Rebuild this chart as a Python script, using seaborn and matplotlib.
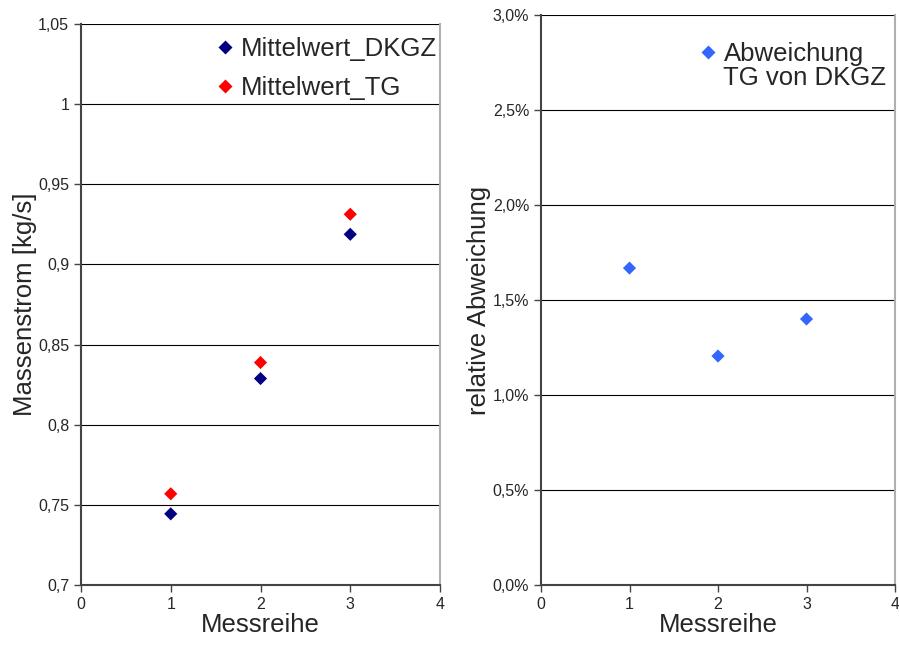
import numpy as np
import pandas as pd
import matplotlib.pyplot as plt
import seaborn as sns
from matplotlib.ticker import FuncFormatter, MultipleLocator

# Messwerte
messreihe = [1, 2, 3]
mittelwert_dkgz = [0.7444, 0.8288, 0.9188]
mittelwert_tg = [0.7569, 0.8388, 0.9313]
abweichung = [0.01668, 0.01205, 0.01400]

df_mittel = pd.DataFrame({
    'Messreihe': messreihe * 2,
    'Massenstrom': mittelwert_dkgz + mittelwert_tg,
    'Reihe': ['Mittelwert_DKGZ'] * 3 + ['Mittelwert_TG'] * 3,
})
df_abw = pd.DataFrame({
    'Messreihe': messreihe,
    'Abweichung': abweichung,
    'Reihe': ['Abweichung\nTG von DKGZ'] * 3,
})

sns.set_style('white')
plt.rcParams['font.family'] = ['Liberation Sans', 'DejaVu Sans']

fig = plt.figure(figsize=(8.99, 6.45), dpi=100)
ax1 = fig.add_axes([81 / 899, 60 / 645, 359 / 899, 561 / 645])
ax2 = fig.add_axes([541 / 899, 60 / 645, 354 / 899, 570 / 645])

sns.scatterplot(data=df_mittel, x='Messreihe', y='Massenstrom', hue='Reihe',
                palette=['#000080', '#FF0000'], marker='D', s=45,
                edgecolor='none', ax=ax1, zorder=3)
sns.scatterplot(data=df_abw, x='Messreihe', y='Abweichung', hue='Reihe',
                palette=['#3366FF'], marker='D', s=45,
                edgecolor='none', ax=ax2, zorder=3)

komma = lambda v, p: ('%g' % v).replace('.', ',')
prozent = lambda v, p: ('%.1f%%' % (v * 100)).replace('.', ',')

for ax in (ax1, ax2):
    ax.set_xlim(0, 4)
    ax.xaxis.set_major_locator(MultipleLocator(1))
    ax.grid(axis='y', color='black', linewidth=0.8)
    ax.grid(axis='x', visible=False)
    ax.set_xlabel('Messreihe', fontsize=18.5, labelpad=1)
    ax.tick_params(axis='both', which='major', direction='out', length=5,
                   width=1, color='#444444', labelsize=11.5, left=True, bottom=True)
    for side in ('left', 'bottom'):
        ax.spines[side].set_color('#444444')
        ax.spines[side].set_linewidth(1.5)
    ax.spines['right'].set_color('#b0b0b0')
    ax.spines['right'].set_linewidth(1.5)
    ax.spines['top'].set_visible(False)

leg1 = ax1.legend(loc='upper right', frameon=False, fontsize=18.5, handlelength=1.0,
                  handletextpad=0.1, borderaxespad=0.0, labelspacing=0.58,
                  bbox_to_anchor=(1.02, 0.995))
leg2 = ax2.legend(loc='upper right', frameon=False, fontsize=18.5, handlelength=1.0,
                  handletextpad=0.1, borderaxespad=0.0, bbox_to_anchor=(1.005, 0.97))
for t in leg2.get_texts():
    t.set_multialignment('left')
    t.set_linespacing(1.0)

# Marker der zweizeiligen Legende auf Höhe der ersten Zeile
for h in leg2.legend_handles:
    if hasattr(h, 'set_ydata'):
        h.set_ydata(np.asarray(h.get_ydata(), dtype=float) + 10.8)
    elif hasattr(h, 'set_offsets'):
        off = np.asarray(h.get_offsets(), dtype=float)
        off[:, 1] += 10.8
        h.set_offsets(off)

ax1.set_ylim(0.7, 1.05)
ax1.yaxis.set_major_locator(MultipleLocator(0.05))
ax1.yaxis.set_major_formatter(FuncFormatter(komma))
ax1.set_ylabel('Massenstrom [kg/s]', fontsize=18.5, labelpad=1)

ax2.set_ylim(0, 0.03)
ax2.yaxis.set_major_locator(MultipleLocator(0.005))
ax2.yaxis.set_major_formatter(FuncFormatter(prozent))
ax2.set_ylabel('relative Abweichung', fontsize=18.5, labelpad=1)

plt.savefig('out.png', dpi=100)
